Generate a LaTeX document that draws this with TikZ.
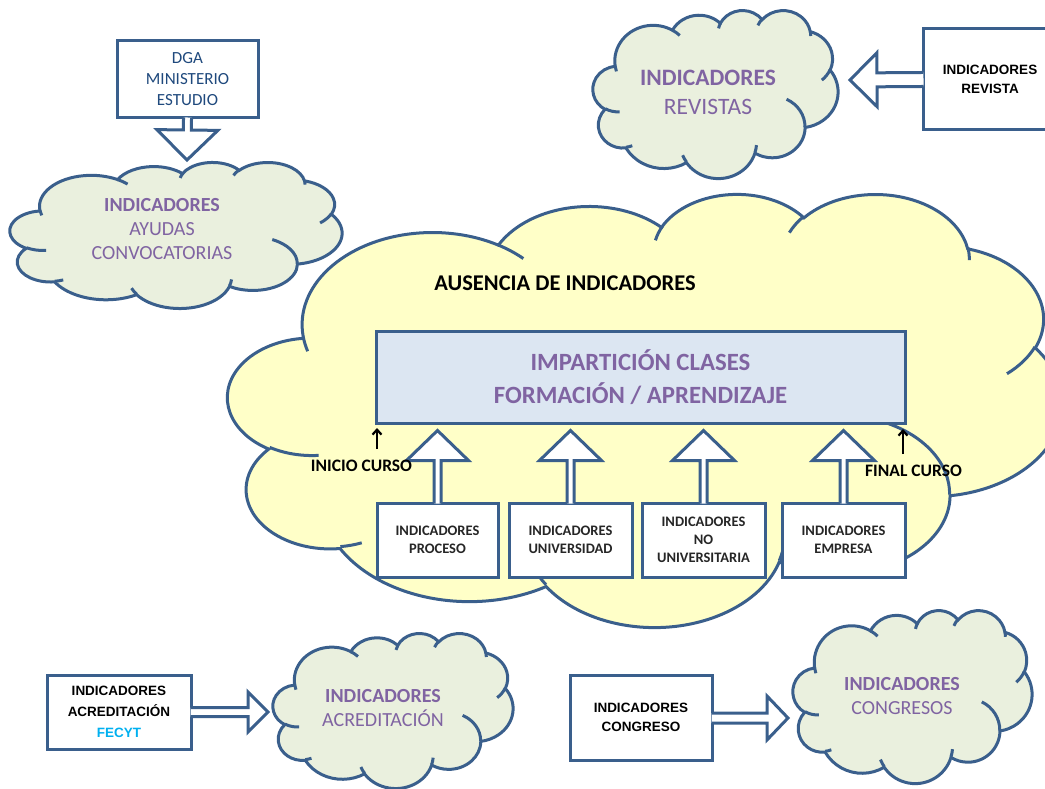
\documentclass[tikz,border=0pt]{standalone}
\usepackage{fontspec}
\setmainfont{Carlito}
\newfontfamily\arialfont{Liberation Sans}
\usetikzlibrary{calc,arrows.meta}

\definecolor{cloudline}{RGB}{58,95,140}
\definecolor{cloudgreen}{RGB}{234,240,222}
\definecolor{cloudyellow}{RGB}{255,255,200}
\definecolor{rectblue}{RGB}{220,230,242}
\definecolor{txtpurple}{RGB}{128,100,162}
\definecolor{txtblue}{RGB}{31,73,125}
\definecolor{fecytblue}{RGB}{0,176,240}

% one arcTo of the office cloud, angles turned into ellipse parameters
\newcommand\ooarc[4]{%
  \pgfmathsetmacro\oas{atan2(#1*sin(#3),#2*cos(#3))}%
  \pgfmathsetmacro\ooe{atan2(#1*sin(#3+#4),#2*cos(#3+#4))}%
  \pgfmathsetmacro\ood{\ooe-\oas}%
  \pgfmathsetmacro\ood{\ood+360*round((#4-\ood)/360)}%
}

% cloud in the box left, top, width, height, filled with #5
\newcommand\pptcloud[5]{%
\pgfmathsetmacro\cldw{#3/100}\pgfmathsetmacro\cldh{#4/100}%
\begin{scope}[shift={(#1,#2)}, x=\cldw pt, y=-\cldh pt]
\draw[cloudline, line width=3pt, fill=#5] (9.0278,33.2639)
  \foreach \rw/\rh/\st/\sw in {6753/9190/-190.48748/123.78053,
      5333/7267/-144.10238/89.94523, 4365/5945/-145.80792/99.72302,
      4857/6595/-130.98607/117.24173, 5333/7273/-78.70888/109.02692,
      6775/9220/-46.26725/130.269, 5785/7867/0.62502/114.03333,
      6752/9215/22.4516/115.17255, 7720/10543/66.24263/75.71102,
      4360/5918/-274.94208/146.73557, 4345/5945/-246.8285/152.51885}{%
    [/utils/exec={\ooarc{\rw}{\rh}{\st}{\sw}}]
    arc[start angle=\oas, delta angle=\ood, x radius=\rw/432, y radius=\rh/432]} -- cycle;
\draw[cloudline, line width=3pt]
  \foreach \mx/\my/\rw/\rh/\st/\sw in {10.8634/60.5949/4345/5945/86.742/26.4295,
      16.0370/80.7847/4360/5918/73.61047/11.44747,
      38.1435/90.4861/6752/9215/137.62415/14.0811,
      66.7292/80.4421/6752/9215/6.45327/15.99835,
      79.0023/53.1343/5785/7867/-70.29235/70.91737,
      96.7546/35.5417/5333/7273/30.31803/27.7515,
      88.7130/12.5602/4857/6595/-13.74433/14.8589,
      67.3102/9.1481/4857/6595/-149.18145/18.19537,
      51.2523/10.9259/4365/5945/-163.49427/17.68635,
      32.4074/12.0185/6753/9190/-66.70695/12.31935,
      9.5532/36.5486/6753/9190/157.65435/11.85817}{%
    (\mx,\my) [/utils/exec={\ooarc{\rw}{\rh}{\st}{\sw}}]
    arc[start angle=\oas, delta angle=\ood, x radius=\rw/432, y radius=\rh/432]};
\end{scope}}

\tikzset{
  cloudtxt/.style={text=txtpurple, align=center, font=\fontsize{20}{24}\selectfont},
  linebox/.style={draw=cloudline, line width=3pt, fill=white, inner sep=0pt},
  boxtxt/.style={font=\arialfont\bfseries\fontsize{13.5}{19}\selectfont, align=center},
  smalltxt/.style={font=\bfseries\fontsize{14.5}{18}\selectfont, align=center, text=black!85},
  coursetxt/.style={font=\bfseries\fontsize{17.5}{20}\selectfont},
  thinarr/.style={line width=2.2pt, -{Straight Barb[length=5pt,width=9pt]}},
  % hollow block arrow: shaft half width, head half width, head length
  hollow/.style n args={3}{draw=cloudline, line width=3pt, fill=white,
    line join=miter,
    to path={let \p1=($(\tikztostart)!-2pt!(\tikztotarget)$), \p2=(\tikztotarget),
      \p3=($(\tikztotarget)!#3pt!(\tikztostart)$) in
      ($(\p1)!#1pt!90:(\p2)$) -- ($(\p3)!#1pt!90:(\p2)$) -- ($(\p3)!#2pt!90:(\p2)$)
      -- (\p2) -- ($(\p3)!#2pt!-90:(\p2)$) -- ($(\p3)!#1pt!-90:(\p2)$)
      -- ($(\p1)!#1pt!-90:(\p2)$)}},
}

\begin{document}
\begin{tikzpicture}[x=1pt, y=-1pt]
\useasboundingbox (0,0) rectangle (1045,789);

\pptcloud{228}{193}{834}{433}{cloudyellow}
\pptcloud{10}{162}{332}{146}{cloudgreen}
\pptcloud{593}{10}{245}{168}{cloudgreen}
\pptcloud{273}{633}{240}{155}{cloudgreen}
\pptcloud{793}{610}{239}{173}{cloudgreen}

% cloud texts
\node[cloudtxt] (ayudas) at (162,229.5) {\textbf{INDICADORES}\\AYUDAS\\CONVOCATORIAS};
\node[cloudtxt, font=\fontsize{23.5}{29}\selectfont] (revistas) at (708,92.5) {\textbf{INDICADORES}\\REVISTAS};
\node[cloudtxt] (acreditacion) at (383,708.5) {\textbf{INDICADORES}\\ACREDITACIÓN};
\node[cloudtxt] (congresos) at (902,696) {\textbf{INDICADORES}\\CONGRESOS};
\node[font=\bfseries\fontsize{22.5}{26}\selectfont] (ausencia) at (565,283) {AUSENCIA DE INDICADORES};

% centre box
\node[linebox, fill=rectblue, minimum width=529, minimum height=92, text=txtpurple,
  font=\bfseries\fontsize{24.8}{33}\selectfont, align=center] (clases) at (640.5,377)
  {IMPARTICIÓN CLASES\\FORMACIÓN / APRENDIZAJE};

% boxes
\node[linebox, boxtxt, text=txtblue, font=\fontsize{17}{21}\selectfont, minimum width=141, minimum height=77] (dga) at (187.5,79.5) {DGA\\MINISTERIO\\ESTUDIO};
\node[linebox, boxtxt, minimum width=134, minimum height=101] (revista) at (990,79.5) {INDICADORES\\REVISTA};
\node[linebox, boxtxt, font=\arialfont\bfseries\fontsize{13.5}{21}\selectfont, minimum width=144, minimum height=74] (acred) at (119,712) {INDICADORES\\ACREDITACIÓN\\\textcolor{fecytblue}{FECYT}};
\node[linebox, boxtxt, minimum width=142, minimum height=85] (congreso) at (641,717.5) {INDICADORES\\CONGRESO};

\node[linebox, smalltxt, minimum width=121, minimum height=74] (proceso) at (437.5,540) {INDICADORES\\PROCESO};
\node[linebox, smalltxt, minimum width=123, minimum height=74] (universidad) at (570.5,540) {INDICADORES\\UNIVERSIDAD};
\node[linebox, smalltxt, minimum width=123, minimum height=74] (nouniv) at (703.5,540) {INDICADORES\\NO\\UNIVERSITARIA};
\node[linebox, smalltxt, minimum width=123, minimum height=74] (empresa) at (843.5,540) {INDICADORES\\EMPRESA};

% arrow tips
\coordinate (ayudastip) at (187,160);
\coordinate (revistastip) at (850,80);
\coordinate (acredtip) at (268,712);
\coordinate (congresostip) at (788,718);

\draw[hollow={4}{30.5}{30}] (dga.south) to (ayudastip);
\draw[hollow={7}{27}{27}] (revista.west) to (revistastip);
\draw[hollow={4.5}{20}{20}] (acred.east) to (acredtip);
\draw[hollow={5}{22}{21}] (congreso.east |- congresostip) to (congresostip);
\foreach \b in {proceso,universidad,nouniv,empresa}{% one arrow up from each box
  \draw[hollow={3.5}{31}{30}] (\b.north) to ($(\b.north |- clases.south)+(0,6)$);}

% course start and end
\node[coursetxt] (inicio) at (361.5,466) {INICIO CURSO};
\node[coursetxt] (final) at (913.5,471) {FINAL CURSO};
\coordinate (inicioA) at (377,449);
\coordinate (inicioB) at (377,428);
\coordinate (finalA) at (903,454);
\coordinate (finalB) at (903,429);
\draw[thinarr] (inicioA) -- (inicioB);
\draw[thinarr] (finalA) -- (finalB);

\end{tikzpicture}
\end{document}
